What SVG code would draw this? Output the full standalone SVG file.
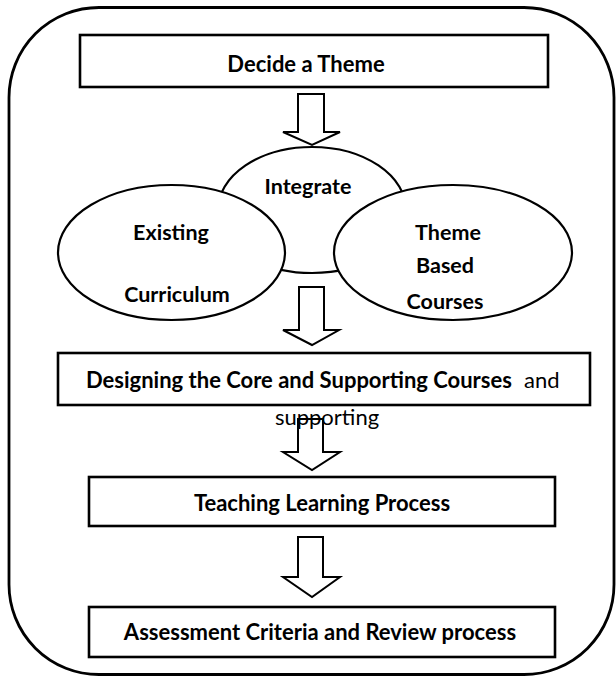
<svg xmlns="http://www.w3.org/2000/svg" width="616" height="677" viewBox="0 0 616 677">
<style>
.box{fill:#fff;stroke:#000;stroke-width:2.6}
.ell{fill:#fff;stroke:#000;stroke-width:2.2}
.arr{fill:#fff;stroke:#000;stroke-width:2;stroke-linejoin:miter}
.b{font-family:Lato,"Open Sans","Liberation Sans",sans-serif;font-weight:bold;font-size:22px;fill:#000}
.e{font-family:Lato,"Open Sans","Liberation Sans",sans-serif;font-weight:bold;font-size:21.5px;fill:#000}
.r{font-family:Lato,"Open Sans","Liberation Sans",sans-serif;font-weight:normal;font-size:22px;fill:#000}
</style>
<rect x="9" y="7.5" width="605" height="667" rx="90" ry="90" fill="#fff" stroke="#000" stroke-width="2.8"/>
<g id="n1">
<rect class="box" x="80" y="35" width="468" height="52"/>
<text class="b" x="306" y="72" text-anchor="middle">Decide a Theme</text>
</g>
<g id="n2">
<ellipse class="ell" cx="312" cy="210" rx="94" ry="63"/>
<text class="e" x="308" y="194" text-anchor="middle">Integrate</text>
</g>
<g id="n3">
<ellipse class="ell" cx="171.5" cy="252.5" rx="113.5" ry="67.5"/>
<text class="e" x="171" y="240" text-anchor="middle">Existing</text>
<text class="e" x="177" y="302" text-anchor="middle">Curriculum</text>
</g>
<g id="n4">
<ellipse class="ell" cx="453" cy="252.5" rx="119" ry="67.5"/>
<text class="e" x="448" y="240" text-anchor="middle">Theme</text>
<text class="e" x="445" y="273" text-anchor="middle">Based</text>
<text class="e" x="445" y="309" text-anchor="middle">Courses</text>
</g>
<g id="n5">
<rect class="box" x="58" y="353" width="532" height="52"/>
<text x="86" y="388"><tspan class="b">Designing the Core and Supporting Courses</tspan><tspan class="r" x="524">and</tspan></text>
</g>
<g id="n6">
<rect class="box" x="89" y="477" width="466" height="49"/>
<text class="b" x="322" y="511" text-anchor="middle">Teaching Learning Process</text>
</g>
<g id="n7">
<rect class="box" x="89" y="607" width="466" height="50"/>
<text class="b" x="320" y="640" text-anchor="middle">Assessment Criteria and Review process</text>
</g>
<g id="connectors">
<polygon class="arr" points="298,94 324,94 324,132 340,132 312,145 283,132 298,132"/>
<polygon class="arr" points="299,287 324,287 324,330 339,330 312,345 283,330 299,330"/>
<polygon class="arr" points="298,419 323,419 323,452 340,452 312,470 283,452 298,452"/>
<polygon class="arr" points="298,537 323,537 323,577 340,577 312,597 283,577 298,577"/>
</g>
<text class="r" x="327" y="425" text-anchor="middle">supporting</text>
</svg>
